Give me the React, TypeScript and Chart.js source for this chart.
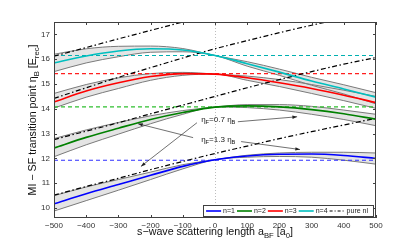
import React, { useEffect, useRef } from "react";
import { Chart, registerables } from "chart.js";

Chart.register(...registerables);

const xs = [-500, -400, -300, -200, -100, 0, 100, 200, 300, 400, 500];

const n1 = [10.17, 10.58, 10.95, 11.32, 11.68, 11.95, 12.1, 12.17, 12.18, 12.12, 12.0];
const n1Upper = [10.5, 10.85, 11.15, 11.45, 11.75, 11.95, 12.13, 12.22, 12.25, 12.25, 12.22];
const n1Lower = [9.88, 10.3, 10.72, 11.15, 11.58, 11.95, 12.05, 12.08, 12.05, 11.93, 11.77];

const n2 = [12.42, 12.85, 13.22, 13.57, 13.85, 14.07, 14.12, 14.08, 13.97, 13.8, 13.58];
const n2Upper = [12.8, 13.15, 13.45, 13.72, 13.93, 14.07, 14.17, 14.17, 14.1, 13.95, 13.78];
const n2Lower = [12.07, 12.55, 12.98, 13.4, 13.78, 14.07, 14.05, 13.95, 13.78, 13.57, 13.32];

const n3 = [14.28, 14.72, 15.05, 15.3, 15.42, 15.4, 15.25, 15.05, 14.82, 14.55, 14.25];
const n3Upper = [14.62, 14.98, 15.25, 15.42, 15.47, 15.4, 15.32, 15.18, 14.98, 14.75, 14.5];
const n3Lower = [14.03, 14.47, 14.82, 15.15, 15.35, 15.4, 15.15, 14.9, 14.62, 14.33, 14.02];

const n4 = [15.85, 16.13, 16.33, 16.42, 16.37, 16.15, 15.82, 15.48, 15.12, 14.8, 14.47];
const n4Upper = [16.2, 16.42, 16.52, 16.53, 16.43, 16.15, 15.9, 15.6, 15.27, 14.97, 14.65];
const n4Lower = [15.5, 15.85, 16.1, 16.28, 16.3, 16.15, 15.72, 15.35, 14.95, 14.6, 14.2];

const pureNl1 = [10.52, 10.87, 11.2, 11.55, 11.88, 12.2, 12.5, 12.8, 13.08, 13.35, 13.62];
const pureNl2 = [12.76, 13.1, 13.44, 13.8, 14.15, 14.5, 14.85, 15.18, 15.5, 15.8, 16.07];
const pureNl3 = [14.42, 14.85, 15.27, 15.66, 16.05, 16.42, 16.75, 17.07, 17.37, 17.65, 17.92];
const pureNl4 = [16.12, 16.47, 16.82, 17.16, 17.5, 17.82];

const dashLevels = [11.93, 14.08, 15.42, 16.15];

const xTicks = [-500, -400, -300, -200, -100, 0, 100, 200, 300, 400, 500];
const yTicks = [10, 11, 12, 13, 14, 15, 16, 17];

const legendLabels = ["n=1", "n=2", "n=3", "n=4", "pure nl"];

const lineColors = ["#0000ff", "#008000", "#ff0000", "#00bfbf"];
const dashColors = ["#2f2fff", "#2fbf2f", "#ff1f1f", "#00b0b0"];

// annotations in data coordinates
const annoTexts = [
  { x: -43, y: 13.56, ratio: "0.7" },
  { x: -43, y: 12.76, ratio: "1.3" },
];
const annoArrows = [
  { x1: 71, y1: 13.48, x2: 255, y2: 13.68 },
  { x1: -56, y1: 13.44, x2: -230, y2: 11.68 },
  { x1: -68, y1: 12.84, x2: -239, y2: 13.4 },
  { x1: 81, y1: 12.68, x2: 264, y2: 12.36 },
];

const FONT = "'Liberation Sans', Arial, Helvetica, sans-serif";

type Part = { t: string; sub?: boolean };

function richWidth(ctx: CanvasRenderingContext2D, parts: Part[], size: number) {
  let w = 0;
  for (const p of parts) {
    ctx.font = `${p.sub ? size * 0.72 : size}px ${FONT}`;
    w += ctx.measureText(p.t).width;
  }
  return w;
}

function drawRich(
  ctx: CanvasRenderingContext2D,
  parts: Part[],
  x: number,
  y: number,
  size: number,
  align: "left" | "center"
) {
  const w = richWidth(ctx, parts, size);
  let cx = align === "center" ? x - w / 2 : x;
  ctx.textAlign = "left";
  ctx.textBaseline = "middle";
  for (const p of parts) {
    const s = p.sub ? size * 0.72 : size;
    ctx.font = `${s}px ${FONT}`;
    ctx.fillText(p.t, cx, p.sub ? y + size * 0.32 : y);
    cx += ctx.measureText(p.t).width;
  }
}

const pts = (arr: number[]) => arr.map((y, i) => ({ x: xs[i], y }));

export default function App() {
  const ref = useRef<HTMLCanvasElement | null>(null);

  useEffect(() => {
    if (!ref.current) return;
    const mains = [n1, n2, n3, n4];
    const uppers = [n1Upper, n2Upper, n3Upper, n4Upper];
    const lowers = [n1Lower, n2Lower, n3Lower, n4Lower];
    const nls = [pureNl1, pureNl2, pureNl3, pureNl4];

    const datasets: any[] = [];
    for (let i = 0; i < 4; i++) {
      datasets.push({
        label: "band" + i,
        data: pts(uppers[i]),
        borderColor: "#7a7a7a",
        borderWidth: 1,
        backgroundColor: "#e4e4e4",
        fill: "+1",
        pointRadius: 0,
        cubicInterpolationMode: "monotone",
        order: 50,
      });
      datasets.push({
        label: "bandl" + i,
        data: pts(lowers[i]),
        borderColor: "#7a7a7a",
        borderWidth: 1,
        fill: false,
        pointRadius: 0,
        cubicInterpolationMode: "monotone",
        order: 49,
      });
    }
    for (let i = 0; i < 4; i++) {
      datasets.push({
        label: "dash" + i,
        data: [
          { x: xs[0], y: dashLevels[i] },
          { x: xs[xs.length - 1], y: dashLevels[i] },
        ],
        borderColor: dashColors[i],
        borderWidth: 1.1,
        borderDash: [4, 3],
        fill: false,
        pointRadius: 0,
        order: 40,
      });
    }
    for (let i = 0; i < 4; i++) {
      datasets.push({
        label: "nl" + i,
        data: pts(nls[i]),
        borderColor: "#000000",
        borderWidth: 1.2,
        borderDash: [5, 2.5, 1.5, 2.5],
        fill: false,
        pointRadius: 0,
        cubicInterpolationMode: "monotone",
        order: 20,
      });
    }
    for (let i = 0; i < 4; i++) {
      datasets.push({
        label: legendLabels[i],
        data: pts(mains[i]),
        borderColor: lineColors[i],
        borderWidth: 1.6,
        fill: false,
        pointRadius: 0,
        cubicInterpolationMode: "monotone",
        order: 10 - i,
      });
    }

    const overlay = {
      id: "overlay",
      beforeDatasetsDraw(chart: any) {
        const { ctx, chartArea, scales } = chart;
        const x0 = Math.round(scales.x.getPixelForValue(0)) + 0.5;
        ctx.save();
        ctx.strokeStyle = "#bdbdbd";
        ctx.lineWidth = 1;
        ctx.setLineDash([1, 2]);
        ctx.beginPath();
        ctx.moveTo(x0, chartArea.top);
        ctx.lineTo(x0, chartArea.bottom);
        ctx.stroke();
        ctx.restore();
      },
      afterDraw(chart: any) {
        const { ctx, chartArea, scales } = chart;
        const { left, right, top, bottom } = chartArea;
        ctx.save();
        // annotations
        ctx.fillStyle = "#222";
        for (const a of annoTexts) {
          const px = scales.x.getPixelForValue(a.x);
          const py = scales.y.getPixelForValue(a.y);
          drawRich(
            ctx,
            [{ t: "η" }, { t: "F", sub: true }, { t: "=" + a.ratio + " η" }, { t: "B", sub: true }],
            px,
            py,
            8,
            "left"
          );
        }
        ctx.strokeStyle = "#333";
        ctx.lineWidth = 0.7;
        for (const a of annoArrows) {
          const x1 = scales.x.getPixelForValue(a.x1);
          const y1 = scales.y.getPixelForValue(a.y1);
          const x2 = scales.x.getPixelForValue(a.x2);
          const y2 = scales.y.getPixelForValue(a.y2);
          ctx.beginPath();
          ctx.moveTo(x1, y1);
          ctx.lineTo(x2, y2);
          ctx.stroke();
          const ang = Math.atan2(y2 - y1, x2 - x1);
          const L = 5;
          const W = 0.35;
          ctx.beginPath();
          ctx.moveTo(x2, y2);
          ctx.lineTo(x2 - L * Math.cos(ang - W), y2 - L * Math.sin(ang - W));
          ctx.lineTo(x2 - L * Math.cos(ang + W), y2 - L * Math.sin(ang + W));
          ctx.closePath();
          ctx.fillStyle = "#222";
          ctx.fill();
        }

        // frame
        ctx.strokeStyle = "#404040";
        ctx.lineWidth = 1;
        ctx.setLineDash([]);
        ctx.strokeRect(left + 0.5, top + 0.5, right - left - 1, bottom - top - 1);
        ctx.beginPath();
        for (const v of xTicks) {
          const px = Math.round(scales.x.getPixelForValue(v)) + 0.5;
          ctx.moveTo(px, bottom);
          ctx.lineTo(px, bottom - 3);
          ctx.moveTo(px, top);
          ctx.lineTo(px, top + 3);
        }
        for (const v of yTicks) {
          const py = Math.round(scales.y.getPixelForValue(v)) + 0.5;
          ctx.moveTo(left, py);
          ctx.lineTo(left + 3, py);
          ctx.moveTo(right, py);
          ctx.lineTo(right - 3, py);
        }
        ctx.stroke();

        // legend
        ctx.font = `7px ${FONT}`;
        const lineLen = 15;
        const gap = 2;
        let w = 4;
        const widths = legendLabels.map((l) => ctx.measureText(l).width);
        for (const tw of widths) w += lineLen + gap + tw + 2;
        w += 2;
        const lh = 11;
        const lx = right - 3 - w;
        const ly = bottom - 2 - lh;
        ctx.fillStyle = "#ffffff";
        ctx.fillRect(lx, ly, w, lh);
        ctx.strokeStyle = "#404040";
        ctx.lineWidth = 1;
        ctx.strokeRect(Math.round(lx) + 0.5, Math.round(ly) + 0.5, Math.round(w), lh);
        let cx = lx + 3;
        const cy = ly + lh / 2 + 0.5;
        legendLabels.forEach((l, i) => {
          ctx.beginPath();
          ctx.strokeStyle = i < 4 ? lineColors[i] : "#000";
          ctx.lineWidth = i < 4 ? 1.6 : 1.2;
          ctx.setLineDash(i < 4 ? [] : [3, 2, 1, 2]);
          ctx.moveTo(cx, cy);
          ctx.lineTo(cx + lineLen, cy);
          ctx.stroke();
          ctx.setLineDash([]);
          cx += lineLen + gap;
          ctx.fillStyle = "#222";
          ctx.textAlign = "left";
          ctx.textBaseline = "middle";
          ctx.font = `7px ${FONT}`;
          ctx.fillText(l, cx, cy);
          cx += widths[i] + 2;
        });

        // axis titles
        ctx.fillStyle = "#111";
        drawRich(
          ctx,
          [{ t: "s−wave scattering length a" }, { t: "BF", sub: true }, { t: " [a" }, { t: "0", sub: true }, { t: "]" }],
          (left + right) / 2,
          232,
          10.7,
          "center"
        );
        ctx.translate(33, (top + bottom) / 2);
        ctx.rotate(-Math.PI / 2);
        drawRich(
          ctx,
          [{ t: "MI − SF transition point η" }, { t: "B", sub: true }, { t: " [E" }, { t: "rec", sub: true }, { t: "]" }],
          0,
          0,
          10.7,
          "center"
        );
        ctx.restore();
      },
    };

    const chart = new Chart(ref.current, {
      type: "line",
      data: { datasets },
      options: {
        animation: false,
        responsive: false,
        maintainAspectRatio: false,
        layout: { padding: { top: 22, right: 39, left: 0, bottom: 0 } },
        plugins: { legend: { display: false }, tooltip: { enabled: false } },
        scales: {
          x: {
            type: "linear",
            min: -500,
            max: 500,
            grid: { display: false, drawTicks: false },
            border: { display: false },
            ticks: {
              padding: 3,
              color: "#333",
              font: { family: FONT, size: 8 },
              maxRotation: 0,
              autoSkip: false,
              callback: (v: any) => String(v).replace("-", "−"),
            },
            afterBuildTicks: (s: any) => {
              s.ticks = xTicks.map((v) => ({ value: v }));
            },
            afterFit: (s: any) => {
              s.height = 33;
            },
          },
          y: {
            type: "linear",
            min: 9.6,
            max: 17.5,
            grid: { display: false, drawTicks: false },
            border: { display: false },
            ticks: {
              padding: 4,
              color: "#333",
              font: { family: FONT, size: 8 },
              autoSkip: false,
            },
            afterBuildTicks: (s: any) => {
              s.ticks = yTicks.map((v) => ({ value: v }));
            },
            afterFit: (s: any) => {
              s.width = 54;
            },
          },
        },
      },
      plugins: [overlay],
    } as any);
    return () => chart.destroy();
  }, []);

  return (
    <div style={{ position: "fixed", left: 0, top: 0, width: 415, height: 251, background: "#fff" }}>
      <canvas ref={ref} width={415} height={251} style={{ width: 415, height: 251 }} />
    </div>
  );
}
